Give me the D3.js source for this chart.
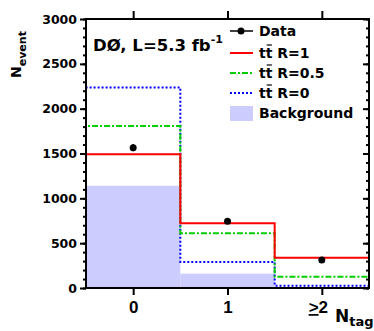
<!DOCTYPE html>
<meta charset="utf-8">
<style>
body { margin: 0; background: #fff; }
svg text { font-family: "DejaVu Sans", sans-serif; font-weight: bold; fill: #000; }
.axis .domain { display: none; }
.axis .tick line { stroke: #000; stroke-width: 2px; }
.axis--y .tick text { font-size: 12.5px; font-family: "DejaVu Sans", sans-serif; font-weight: bold; }
.axis--x .tick text { font-size: 17px; font-family: "Liberation Sans", Arial, sans-serif; font-weight: bold; }
.hist { fill: none; stroke-width: 2px; }
.legend text { font-size: 14px; }
</style>
<body>
<script src="https://cdn.jsdelivr.net/npm/d3@7"></script>
<script>

var bins = ["0", "1", "2"];
var dataCounts = [1565, 745, 313];
var ttR1 = [1492, 722, 336];
var ttR05 = [1806, 611, 126];
var ttR0 = [2235, 291, 26];
var background = [1140, 160, 12];
var yTicks = [0, 500, 1000, 1500, 2000, 2500, 3000];

var m = {left: 86, right: 369, top: 19, bottom: 288};

var svg = d3.select("body").append("svg")
    .attr("width", 374)
    .attr("height", 331);

var x = d3.scaleLinear()
    .domain([-0.5, 2.5])
    .range([m.left, m.right]);

var y = d3.scaleLinear()
    .domain([0, 3000])
    .range([m.bottom, m.top]);

// step path for a histogram, closed down to zero at both ends
function stepPath(values) {
  var p = d3.path();
  p.moveTo(x(-0.5), y(0));
  values.forEach(function(v, i) {
    p.lineTo(x(i - 0.5), y(v));
    p.lineTo(x(i + 0.5), y(v));
  });
  p.lineTo(x(values.length - 0.5), y(0));
  return p.toString();
}

// background fill
svg.append("g").selectAll("rect")
    .data(background)
  .enter().append("rect")
    .attr("x", function(d, i) { return x(i - 0.5); })
    .attr("width", function(d, i) { return x(i + 0.5) - x(i - 0.5); })
    .attr("y", function(d) { return y(d); })
    .attr("height", function(d) { return y(0) - y(d); })
    .attr("fill", "#ccccff");

svg.append("path").attr("class", "hist")
    .attr("d", stepPath(ttR0))
    .attr("stroke", "#0000ff")
    .attr("stroke-dasharray", "2,2");

svg.append("path").attr("class", "hist")
    .attr("d", stepPath(ttR05))
    .attr("stroke", "#00cc00")
    .attr("stroke-dasharray", "6,2,2,2");

svg.append("path").attr("class", "hist")
    .attr("d", stepPath(ttR1))
    .attr("stroke", "#ff0000");

// data points with sqrt(N) errors
var pts = svg.append("g").selectAll("g")
    .data(dataCounts)
  .enter().append("g");

pts.append("line")
    .attr("x1", function(d, i) { return x(i); })
    .attr("x2", function(d, i) { return x(i); })
    .attr("y1", function(d) { return y(d - Math.sqrt(d)); })
    .attr("y2", function(d) { return y(d + Math.sqrt(d)); })
    .attr("stroke", "#000")
    .attr("stroke-width", 1.5);

pts.append("circle")
    .attr("cx", function(d, i) { return x(i); })
    .attr("cy", function(d) { return y(d); })
    .attr("r", 3.5)
    .attr("fill", "#000");

// axes
svg.append("g")
    .attr("class", "axis axis--y")
    .attr("transform", "translate(" + m.left + ",0)")
    .call(d3.axisLeft(y).tickValues(d3.range(0, 3001, 100)).tickSize(3).tickFormat(""));

svg.append("g")
    .attr("class", "axis axis--y")
    .attr("transform", "translate(" + m.left + ",0)")
    .call(d3.axisLeft(y).tickValues(yTicks).tickSize(6).tickPadding(3).tickFormat(d3.format("d")));

svg.append("g")
    .attr("class", "axis")
    .attr("transform", "translate(" + m.right + ",0)")
    .call(d3.axisLeft(y).tickValues(d3.range(0, 3001, 100)).tickSize(3).tickFormat(""));

svg.append("g")
    .attr("class", "axis")
    .attr("transform", "translate(" + m.right + ",0)")
    .call(d3.axisLeft(y).tickValues(yTicks).tickSize(6).tickFormat(""));

var xAxis = svg.append("g")
    .attr("class", "axis axis--x")
    .attr("transform", "translate(0," + m.bottom + ")")
    .call(d3.axisBottom(x).tickValues([0, 1, 2]).tickSize(7).tickPadding(6)
        .tickFormat(function(d, i) { return bins[i]; }));

// the last label is ">2" with an underlined ">"
xAxis.selectAll(".tick text").filter(function(d) { return d === 2; })
    .text(null)
    .call(function(t) {
      t.append("tspan").text(">").style("text-decoration", "underline");
      t.append("tspan").text("2");
    })
    .attr("dx", "-4");

svg.append("g")
    .attr("class", "axis")
    .attr("transform", "translate(0," + m.top + ")")
    .call(d3.axisTop(x).tickValues([0, 1, 2]).tickSize(8).tickFormat(""));

svg.append("rect")
    .attr("x", m.left).attr("y", m.top)
    .attr("width", m.right - m.left).attr("height", m.bottom - m.top)
    .attr("fill", "none")
    .attr("stroke", "#000")
    .attr("stroke-width", 2);

// axis titles
var yTitle = svg.append("text")
    .attr("transform", "translate(21,78) rotate(-90)")
    .attr("font-size", 14);
yTitle.append("tspan").text("N");
yTitle.append("tspan").attr("font-size", 11).attr("dy", 5).text("event");

var xTitle = svg.append("text")
    .attr("x", 335).attr("y", 322)
    .attr("font-size", 17)
    .attr("font-family", "Liberation Sans, Arial, sans-serif");
xTitle.append("tspan").text("N");
xTitle.append("tspan").attr("font-size", 13).attr("dy", 4).text("tag");

// experiment label
var lab = svg.append("text")
    .attr("x", 93).attr("y", 51)
    .attr("font-size", 16.5);
lab.append("tspan").text("DØ, L=5.3 fb");
lab.append("tspan").attr("font-size", 11).attr("dy", -8).text("-1");

// legend
var legend = svg.append("g").attr("class", "legend");
var rows = [
  {label: "Data", y: 31},
  {label: " R=1", y: 53, tt: true, color: "#ff0000", dash: null},
  {label: " R=0.5", y: 73, tt: true, color: "#00cc00", dash: "6,2,2,2"},
  {label: " R=0", y: 93, tt: true, color: "#0000ff", dash: "2,2"},
  {label: "Background", y: 113}
];

rows.forEach(function(r) {
  var tx = legend.append("text")
      .attr("x", 259).attr("y", r.y + 5);
  if (r.tt) {
    tx.append("tspan").text("tt");
    tx.append("tspan").text(r.label);
    var w1 = tx.node().getSubStringLength(0, 1);
    var w2 = tx.node().getSubStringLength(1, 1);
    legend.append("line")
        .attr("x1", 259 + w1 + 1).attr("x2", 259 + w1 + w2 - 0.5)
        .attr("y1", r.y - 8).attr("y2", r.y - 8)
        .attr("stroke", "#000").attr("stroke-width", 1.2);
    legend.append("line")
        .attr("x1", 230).attr("x2", 253)
        .attr("y1", r.y).attr("y2", r.y)
        .attr("stroke", r.color).attr("stroke-width", 2)
        .attr("stroke-dasharray", r.dash);
  } else {
    tx.text(r.label);
  }
});

legend.append("line")
    .attr("x1", 230).attr("x2", 253)
    .attr("y1", 31).attr("y2", 31)
    .attr("stroke", "#000").attr("stroke-width", 1.5);
legend.append("circle")
    .attr("cx", 241).attr("cy", 31).attr("r", 3.5).attr("fill", "#000");
legend.append("rect")
    .attr("x", 230).attr("y", 106).attr("width", 23).attr("height", 15)
    .attr("fill", "#ccccff");

</script>
